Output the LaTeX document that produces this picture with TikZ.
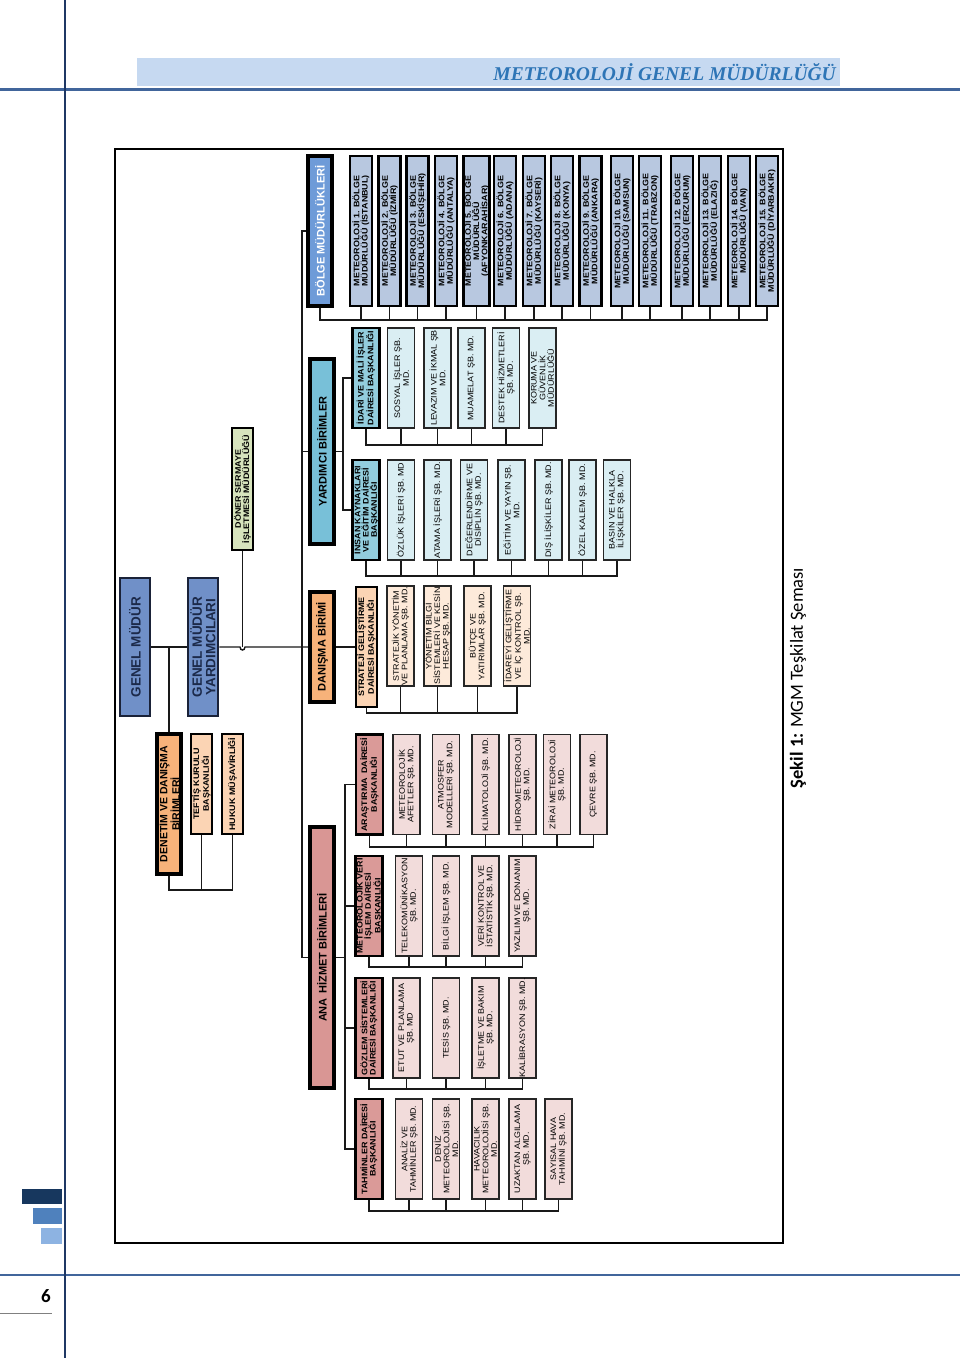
\documentclass[tikz,border=0pt]{standalone}
\usepackage{fontspec}
\setmainfont{Liberation Sans}
\newfontfamily\cf[FakeStretch=1.12]{Liberation Sans}
\newfontfamily\plainsf{Liberation Sans}
\newfontfamily\titlef{Liberation Serif}
\newfontfamily\calib{Carlito}
\definecolor{bgm}{HTML}{7090C8}
\definecolor{gmtext}{HTML}{1C2A4A}
\definecolor{gmborder}{HTML}{1A2238}
\definecolor{bbolge}{HTML}{6E9BD8}
\definecolor{bitem}{HTML}{B8C8E0}
\definecolor{cyanh}{HTML}{78C0D8}
\definecolor{cyanm}{HTML}{93CDDD}
\definecolor{cyanl}{HTML}{DAEEF3}
\definecolor{orh}{HTML}{F7B27A}
\definecolor{orm}{HTML}{FBD4B4}
\definecolor{orl}{HTML}{FDEADA}
\definecolor{roseh}{HTML}{D99694}
\definecolor{rosem}{HTML}{DA9A98}
\definecolor{rosel}{HTML}{F2DCDB}
\definecolor{greenc}{HTML}{D7E4BD}
\definecolor{titlebar}{HTML}{C6D9F1}
\definecolor{titletext}{HTML}{2E75B6}
\definecolor{navyline}{HTML}{1F3864}
\definecolor{steelline}{HTML}{41659B}
\definecolor{bardk}{HTML}{17375E}
\definecolor{barmd}{HTML}{4F81BD}
\definecolor{barlt}{HTML}{8DB3E2}
\tikzset{
  subnode/.style={draw=black!85, line width=1.5pt, rotate=90, align=center, inner sep=0.5pt,
    font=\cf\fontsize{8}{8.6}\selectfont, minimum width=100pt, minimum height=27pt},
  headnode/.style={subnode, draw=black, line width=2.6pt, font=\cf\bfseries\fontsize{8}{8.3}\selectfont},
  bignode/.style={subnode, draw=black, line width=3.8pt, minimum height=24pt,
    font=\plainsf\bfseries\fontsize{11}{11.5}\selectfont},
  regnode/.style={headnode, fill=bitem, minimum width=150pt, minimum height=22pt},
  gmnode/.style={bignode, fill=bgm, text=gmtext, draw=gmborder, line width=2.5pt, minimum width=138pt, minimum height=30pt},
  conn/.style={line width=1.4pt, draw=black!90},
}
\begin{document}
\begin{tikzpicture}[x=1pt,y=-1pt]
\fill[white] (0,0) rectangle (960,1358);
\useasboundingbox (0,0) rectangle (960,1358);
% page decoration
\fill[titlebar] (137,58) rectangle (840,86);
\node[anchor=east, inner sep=0pt, font=\titlef\bfseries\itshape\fontsize{19.5}{20}\selectfont, text=titletext] (title) at (836,72) {METEOROLOJİ GENEL MÜDÜRLÜĞÜ};
\draw[line width=3pt, steelline] (0,89) -- (960,89);
\draw[line width=2pt, steelline] (0,1275) -- (960,1275);
\draw[line width=2pt, navyline] (65,0) -- (65,1358);
\fill[bardk] (22,1189) rectangle (62,1204);
\fill[barmd] (33,1208) rectangle (62,1224);
\fill[barlt] (41,1228) rectangle (62,1244);
\node[font=\calib\bfseries\fontsize{19}{19}\selectfont] (pg) at (46,1296) {6};
\draw[gray, line width=1pt] (0,1313) -- (52,1313);
% frame
\draw[line width=2pt] (115,149) rectangle (783,1243);
\node[rotate=90, font=\calib\fontsize{18.5}{18.5}\selectfont] (cap) at (798,678) {\textbf{Şekil 1:} MGM Teşkilat Şeması};

% top levels
\node[gmnode, font=\plainsf\bfseries\fontsize{13.5}{14}\selectfont] (gm) at (135,647) {GENEL MÜDÜR};
\node[gmnode, font=\plainsf\bfseries\fontsize{13.5}{13.5}\selectfont] (gmy) at (203,647) {GENEL MÜDÜR\\YARDIMCILARI};
\node[bignode, fill=orh, minimum width=140pt, minimum height=24pt, line width=3.4pt, font=\plainsf\bfseries\fontsize{10.5}{10.5}\selectfont] (den) at (169,804) {DENETİM VE DANIŞMA\\BİRİMLERİ};
\node[headnode, fill=orm, minimum width=100pt, minimum height=21pt] (tef) at (201.5,784) {TEFTİŞ KURULU\\BAŞKANLIĞI};
\node[headnode, fill=orm, minimum width=100pt, minimum height=21pt] (huk) at (232.5,784) {HUKUK MÜŞAVİRLİĞİ};
\node[headnode, fill=greenc, minimum width=122pt, minimum height=21pt] (don) at (242.5,489) {DÖNER SERMAYE\\İŞLETMESİ MÜDÜRLÜĞÜ};

\node[bignode, fill=bbolge, text=white, minimum width=150pt] (bol) at (320,231) {BÖLGE MÜDÜRLÜKLERİ};
\node[bignode, fill=cyanh, minimum width=185pt] (yar) at (322,451.5) {YARDIMCI BİRİMLER};
\node[bignode, fill=orh, minimum width=110pt] (dan) at (322,647) {DANIŞMA BİRİMİ};
\node[bignode, fill=roseh, minimum width=261pt] (ana) at (322,957.5) {ANA\, HİZMET BİRİMLERİ};

% regional directorates
\node[regnode] (b1) at (361,231) {METEOROLOJİ 1. BÖLGE\\MÜDÜRLÜĞÜ (İSTANBUL)};
\node[regnode] (b2) at (389.5,231) {METEOROLOJİ 2. BÖLGE\\MÜDÜRLÜĞÜ (İZMİR)};
\node[regnode] (b3) at (417.5,231) {METEOROLOJİ 3. BÖLGE\\MÜDÜRLÜĞÜ (ESKİŞEHİR)};
\node[regnode] (b4) at (446,231) {METEOROLOJİ 4. BÖLGE\\MÜDÜRLÜĞÜ (ANTALYA)};
\node[regnode, minimum height=25pt] (b5) at (476.5,231) {METEOROLOJİ 5. BÖLGE\\MÜDÜRLÜĞÜ\\(AFYONKARAHİSAR)};
\node[regnode] (b6) at (505,231) {METEOROLOJİ 6. BÖLGE\\MÜDÜRLÜĞÜ (ADANA)};
\node[regnode] (b7) at (534,231) {METEOROLOJİ 7. BÖLGE\\MÜDÜRLÜĞÜ (KAYSERİ)};
\node[regnode] (b8) at (562,231) {METEOROLOJİ 8. BÖLGE\\MÜDÜRLÜĞÜ (KONYA)};
\node[regnode] (b9) at (590.5,231) {METEOROLOJİ 9. BÖLGE\\MÜDÜRLÜĞÜ (ANKARA)};
\node[regnode] (b10) at (622,231) {METEOROLOJİ 10. BÖLGE\\MÜDÜRLÜĞÜ (SAMSUN)};
\node[regnode] (b11) at (650,231) {METEOROLOJİ 11. BÖLGE\\MÜDÜRLÜĞÜ (TRABZON)};
\node[regnode] (b12) at (682,231) {METEOROLOJİ 12. BÖLGE\\MÜDÜRLÜĞÜ (ERZURUM)};
\node[regnode] (b13) at (710,231) {METEOROLOJİ 13. BÖLGE\\MÜDÜRLÜĞÜ (ELAZIĞ)};
\node[regnode] (b14) at (739,231) {METEOROLOJİ 14. BÖLGE\\MÜDÜRLÜĞÜ (VAN)};
\node[regnode] (b15) at (767,231) {METEOROLOJİ 15. BÖLGE\\MÜDÜRLÜĞÜ (DİYARBAKIR)};

% auxiliary units
\node[headnode, fill=cyanm] (ida) at (366,378) {İDARİ VE MALİ İŞLER\\DAİRESİ BAŞKANLIĞI};
\node[subnode, fill=cyanl] (i1) at (401,378) {SOSYAL İŞLER ŞB.\\MD.};
\node[subnode, fill=cyanl] (i2) at (437.5,378) {LEVAZIM VE İKMAL ŞB\\MD.};
\node[subnode, fill=cyanl] (i3) at (471.5,378) {MUAMELAT ŞB. MD.};
\node[subnode, fill=cyanl] (i4) at (506,378) {DESTEK HİZMETLERİ\\ŞB. MD.};
\node[subnode, fill=cyanl] (i5) at (542.5,378) {KORUMA VE\\GÜVENLİK\\MÜDÜRLÜĞÜ};

\node[headnode, fill=cyanm] (ins) at (366,510) {İNSAN KAYNAKLARI\\VE EĞİTİM DAİRESİ\\BAŞKANLIĞI};
\node[subnode, fill=cyanl] (n1) at (401,510) {ÖZLÜK İŞLERİ ŞB. MD};
\node[subnode, fill=cyanl] (n2) at (437.5,510) {ATAMA İŞLERİ ŞB. MD.};
\node[subnode, fill=cyanl] (n3) at (474,510) {DEĞERLENDİRME VE\\DİSİPLİN ŞB. MD.};
\node[subnode, fill=cyanl] (n4) at (511.5,510) {EĞİTİM VE YAYIN ŞB.\\MD.};
\node[subnode, fill=cyanl] (n5) at (548.5,510) {DIŞ İLİŞKİLER ŞB. MD.};
\node[subnode, fill=cyanl] (n6) at (582.5,510) {ÖZEL KALEM ŞB. MD.};
\node[subnode, fill=cyanl] (n7) at (617,510) {BASIN VE HALKLA\\İLİŞKİLER ŞB. MD.};

% advisory
\node[headnode, fill=orm, minimum width=120pt, minimum height=21pt] (str) at (366.5,647) {STRATEJİ GELİŞTİRME\\DAİRESİ BAŞKANLIĞI};
\node[subnode, fill=orl] (s1) at (400.5,636) {STRATEJİK YÖNETİM\\VE PLANLAMA ŞB. MD.};
\node[subnode, fill=orl] (s2) at (437.5,636) {YÖNETİM BİLGİ\\SİSTEMLERİ VE KESİN\\HESAP ŞB. MD.};
\node[subnode, fill=orl] (s3) at (477.5,636) {BÜTÇE VE\\YATIRIMLAR ŞB. MD.};
\node[subnode, fill=orl] (s4) at (517,636) {İDAREYİ GELİŞTİRME\\VE İÇ KONTROL ŞB.\\MD.};

% main service units
\node[headnode, fill=rosem] (ara) at (369.5,784.5) {ARAŞTIRMA\, DAİRESİ\\BAŞKANLIĞI};
\node[subnode, fill=rosel] (a1) at (406.5,784.5) {METEOROLOJİK\\AFETLER ŞB. MD.};
\node[subnode, fill=rosel] (a2) at (446,784.5) {ATMOSFER\\MODELLERİ ŞB. MD.};
\node[subnode, fill=rosel] (a3) at (485.5,784.5) {KLİMATOLOJİ ŞB. MD.};
\node[subnode, fill=rosel] (a4) at (522.5,784.5) {HİDROMETEOROLOJİ\\ŞB. MD.};
\node[subnode, fill=rosel] (a5) at (557,784.5) {ZİRAİ METEOROLOJİ\\ŞB. MD.};
\node[subnode, fill=rosel] (a6) at (593.5,784.5) {ÇEVRE ŞB. MD.};

\node[headnode, fill=rosem] (met) at (369,906) {METEOROLOJİK VERİ\\İŞLEM DAİRESİ\\BAŞKANLIĞI};
\node[subnode, fill=rosel] (v1) at (409,906) {TELEKOMÜNİKASYON\\ŞB. MD.};
\node[subnode, fill=rosel] (v2) at (446,906) {BİLGİ İŞLEM ŞB. MD.};
\node[subnode, fill=rosel] (v3) at (485.5,906) {VERİ KONTROL VE\\İSTATİSTİK ŞB. MD.};
\node[subnode, fill=rosel] (v4) at (522.5,906) {YAZILIM VE DONANIM\\ŞB. MD.};

\node[headnode, fill=rosem] (goz) at (369,1028) {GÖZLEM SİSTEMLERİ\\DAİRESİ BAŞKANLIĞI};
\node[subnode, fill=rosel] (g1) at (406.5,1028) {ETUT VE PLANLAMA\\ŞB. MD};
\node[subnode, fill=rosel] (g2) at (446,1028) {TESİS ŞB. MD.};
\node[subnode, fill=rosel] (g3) at (485.5,1028) {İŞLETME VE BAKIM\\ŞB. MD.};
\node[subnode, fill=rosel] (g4) at (522.5,1028) {KALİBRASYON ŞB. MD.};

\node[headnode, fill=rosem] (tah) at (369,1149) {TAHMİNLER DAİRESİ\\BAŞKANLIĞI};
\node[subnode, fill=rosel] (t1) at (409,1149) {ANALİZ VE\\TAHMİNLER ŞB. MD.};
\node[subnode, fill=rosel] (t2) at (446,1149) {DENİZ\\METEOROLOJİSİ ŞB.\\MD.};
\node[subnode, fill=rosel] (t3) at (485.5,1149) {HAVACILIK\\METEOROLOJİSİ ŞB.\\MD.};
\node[subnode, fill=rosel] (t4) at (522.5,1149) {UZAKTAN ALGILAMA\\ŞB. MD.};
\node[subnode, fill=rosel] (t5) at (558.5,1149) {SAYISAL HAVA\\TAHMİNİ ŞB. MD.};

% bus coordinates
\coordinate (spine) at (302,0);
\coordinate (ysp) at (343,0);
\coordinate (asp) at (345,0);
\coordinate (dbus) at (0,890);
\coordinate (bbus) at (0,320);
\coordinate (ibus) at (0,445);
\coordinate (nbus) at (0,576);
\coordinate (sbus) at (0,713);
\coordinate (abus) at (0,847);
\coordinate (vbus) at (0,967);
\coordinate (gbus) at (0,1089);
\coordinate (tbus) at (0,1211);
\coordinate (hop) at (don.west |- gmy.south);

% connectors
\draw[conn] (gm.south) -- (gmy.north);
\draw[conn] (gmy.south) -- ([xshift=-2.5pt]hop) .. controls +(0,4) and +(0,4) .. ([xshift=2.5pt]hop) -- (dan.north);
\draw[conn] (don.west) -- (hop);
\draw[conn] (den.east |- gm.south) -- (den.east);
\draw[conn] (den.west) -- (den.west |- dbus) -- (huk.west |- dbus) -- (huk.west);
\draw[conn] (tef.west) -- (tef.west |- dbus);
\draw[conn] (bol.north) -- (bol.north -| spine) -- (ana.north -| spine) -- (ana.north);
\draw[conn] (yar.north) -- (yar.north -| spine);
\draw[conn] (bol.west) -- (bol.west |- bbus) -- (b15.west |- bbus) -- (b15.west);
\foreach \i in {1,...,14} \draw[conn] (b\i.west) -- (b\i.west |- bbus);
\draw[conn] (yar.south) -- (yar.south -| ysp);
\draw[conn] (ida.north) -- (ida.north -| ysp) -- (ins.north -| ysp) -- (ins.north);
\draw[conn] (ida.west) -- (ida.west |- ibus) -- (i5.west |- ibus) -- (i5.west);
\foreach \n in {i1,i2,i3,i4} \draw[conn] (\n.west) -- (\n.west |- ibus);
\draw[conn] (ins.west) -- (ins.west |- nbus) -- (n7.west |- nbus) -- (n7.west);
\foreach \n in {n1,n2,n3,n4,n5,n6} \draw[conn] (\n.west) -- (\n.west |- nbus);
\draw[conn] (dan.south) -- (str.north);
\draw[conn] (str.west) -- (str.west |- sbus) -- (s4.west |- sbus) -- (s4.west);
\foreach \n in {s1,s2,s3} \draw[conn] (\n.west) -- (\n.west |- sbus);
\draw[conn] (ana.south) -- (ana.south -| asp);
\draw[conn] (ara.north) -- (ara.north -| asp) -- (tah.north -| asp) -- (tah.north);
\draw[conn] (met.north) -- (met.north -| asp);
\draw[conn] (goz.north) -- (goz.north -| asp);
\draw[conn] (ara.west) -- (ara.west |- abus) -- (a6.west |- abus) -- (a6.west);
\foreach \n in {a1,a2,a3,a4,a5} \draw[conn] (\n.west) -- (\n.west |- abus);
\draw[conn] (met.west) -- (met.west |- vbus) -- (v4.west |- vbus) -- (v4.west);
\foreach \n in {v1,v2,v3} \draw[conn] (\n.west) -- (\n.west |- vbus);
\draw[conn] (goz.west) -- (goz.west |- gbus) -- (g4.west |- gbus) -- (g4.west);
\foreach \n in {g1,g2,g3} \draw[conn] (\n.west) -- (\n.west |- gbus);
\draw[conn] (tah.west) -- (tah.west |- tbus) -- (t5.west |- tbus) -- (t5.west);
\foreach \n in {t1,t2,t3,t4} \draw[conn] (\n.west) -- (\n.west |- tbus);
\end{tikzpicture}
\end{document}
